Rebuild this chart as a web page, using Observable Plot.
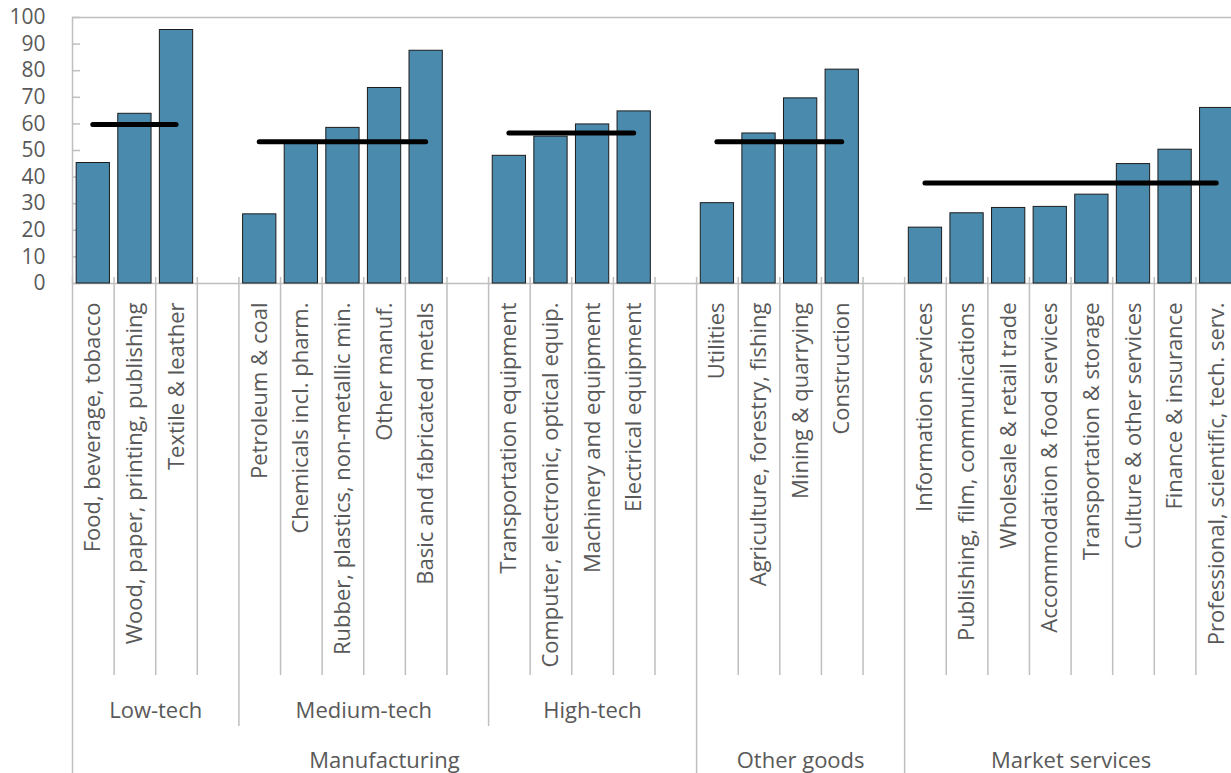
<!DOCTYPE html>
<html>
<head>
<meta charset="utf-8">
<script src="https://cdn.jsdelivr.net/npm/d3@7"></script>
<script src="https://cdn.jsdelivr.net/npm/@observablehq/plot@0.6"></script>
<style>
  html, body { margin: 0; padding: 0; background: #fff; overflow: hidden; }
  #chart { width: 1231px; height: 773px; overflow: hidden; }
  #chart svg { max-width: none !important; display: block; }
</style>
</head>
<body>
<div id="chart"></div>
<script>
// ---------- data ----------
const categories = [
  "Food, beverage, tobacco", "Wood, paper, printing, publishing", "Textile & leather",
  "Petroleum & coal", "Chemicals incl. pharm.", "Rubber, plastics, non-metallic min.", "Other manuf.", "Basic and fabricated metals",
  "Transportation equipment", "Computer, electronic, optical equip.", "Machinery and equipment", "Electrical equipment",
  "Utilities", "Agriculture, forestry, fishing", "Mining & quarrying", "Construction",
  "Information services", "Publishing, film, communications", "Wholesale & retail trade", "Accommodation & food services",
  "Transportation & storage", "Culture & other services", "Finance & insurance", "Professional, scientific, tech. serv."
];
const values = [
  45.3, 63.8, 95.3,
  26.0, 53.0, 58.5, 73.5, 87.5,
  48.0, 55.2, 59.8, 64.7,
  30.2, 56.4, 69.6, 80.4,
  21.0, 26.4, 28.4, 28.8, 33.4, 44.9, 50.3, 66.0
];
const categoryGroup = [0,0,0, 1,1,1,1,1, 2,2,2,2, 3,3,3,3, 4,4,4,4,4,4,4,4];
const groupLabels = ["Low-tech", "Medium-tech", "High-tech", "", ""];
const groupSectors = ["Manufacturing", "Manufacturing", "Manufacturing", "Other goods", "Market services"];
const groupAverages = [59.8, 53.3, 56.6, 53.3, 37.8];
const yTicks = [0, 10, 20, 30, 40, 50, 60, 70, 80, 90, 100];

// ---------- slot layout (one empty slot after each group but the last) ----------
const nGroups = groupLabels.length;
const catSlots = [];
const groupSpans = [];
let slot = 0;
for (let g = 0; g < nGroups; g++) {
  const start = slot;
  categories.forEach((c, i) => {
    if (categoryGroup[i] === g) catSlots.push({idx: slot++, cat: c, value: values[i]});
  });
  const lastBar = slot - 1;
  if (g < nGroups - 1) slot++; // gap
  groupSpans.push({g, start, end: slot, firstBar: start, lastBar,
                   label: groupLabels[g], sector: groupSectors[g], avg: groupAverages[g]});
}
const nSlots = slot;
const sectorSpans = [];
groupSpans.forEach(s => {
  const last = sectorSpans[sectorSpans.length - 1];
  if (last && last.sector === s.sector) last.end = s.end;
  else sectorSpans.push({sector: s.sector, start: s.start, end: s.end});
});
const slotBounds = d3.range(0, nSlots + 1);
const groupBounds = Array.from(new Set(groupSpans.flatMap(s => [s.start, s.end])));
const sectorBounds = Array.from(new Set(sectorSpans.flatMap(s => [s.start, s.end])));

// ---------- layout ----------
const W = 1238, H = 773, ML = 72, MR = 1, MT = 17, BASE = 283, MB = H - BASE;
const unitPx = (BASE - MT) / 100;
const yAt = px => (BASE - px) / unitPx;          // pixel row -> y data value
const stepPx = (W - ML - MR) / nSlots;
const grid = "#bfbfbf", txt = "#595959";
const FONT = "'Open Sans', 'Noto Sans', sans-serif";

const chart = Plot.plot({
  width: W, height: H,
  marginLeft: ML, marginRight: MR, marginTop: MT, marginBottom: MB,
  style: {fontFamily: FONT, background: "#fff", overflow: "visible", maxWidth: "none"},
  x: {type: "linear", domain: [0, nSlots], axis: null},
  y: {domain: [0, 100], axis: null},
  marks: [
    // category separators
    Plot.ruleX(slotBounds, {x: d => d, y1: yAt(277), y2: yAt(675), stroke: grid, strokeWidth: 1.5}),
    Plot.ruleX(groupBounds, {x: d => d, y1: yAt(675), y2: yAt(726), stroke: grid, strokeWidth: 1.5}),
    Plot.ruleX(sectorBounds, {x: d => d, y1: yAt(726), y2: yAt(773), stroke: grid, strokeWidth: 1.5}),
    // axes frame
    Plot.ruleX([0], {y1: 0, y2: 100, stroke: grid, strokeWidth: 1.5}),
    Plot.ruleY([100], {x1: 0, x2: nSlots, stroke: grid, strokeWidth: 1.5}),
    Plot.ruleY([0], {x1: 0, x2: nSlots, stroke: grid, strokeWidth: 1.5}),
    Plot.ruleY(yTicks, {y: d => d, x1: 0, x2: 8 / stepPx, stroke: grid, strokeWidth: 1.5}),
    // bars
    Plot.rectY(catSlots, {x1: d => d.idx + 0.1, x2: d => d.idx + 0.9, y1: 0, y2: "value",
      fill: "#4a8aad", stroke: "#1c1c1c", strokeWidth: 1}),
    // group averages
    Plot.ruleY(groupSpans, {x1: d => d.firstBar + 0.5, x2: d => d.lastBar + 0.5, y: "avg",
      stroke: "#000", strokeWidth: 5, strokeLinecap: "round"}),
    // category labels
    Plot.text(catSlots, {x: d => d.idx + 0.5, y: 0, dy: 19, text: "cat", rotate: -90,
      textAnchor: "end", fontSize: 22, fill: txt}),
    // group labels
    Plot.text(groupSpans.filter(d => d.label), {x: d => (d.start + d.end) / 2, y: 0, dy: 427,
      text: "label", fontSize: 22, fill: txt}),
    // sector labels
    Plot.text(sectorSpans, {x: d => (d.start + d.end) / 2, y: 0, dy: 477,
      text: "sector", fontSize: 22, fill: txt}),
    // y axis labels
    Plot.axisY(yTicks, {tickSize: 0, tickPadding: 27, fontSize: 21, color: txt, label: null})
  ]
});
document.getElementById("chart").appendChild(chart);
</script>
</body>
</html>
